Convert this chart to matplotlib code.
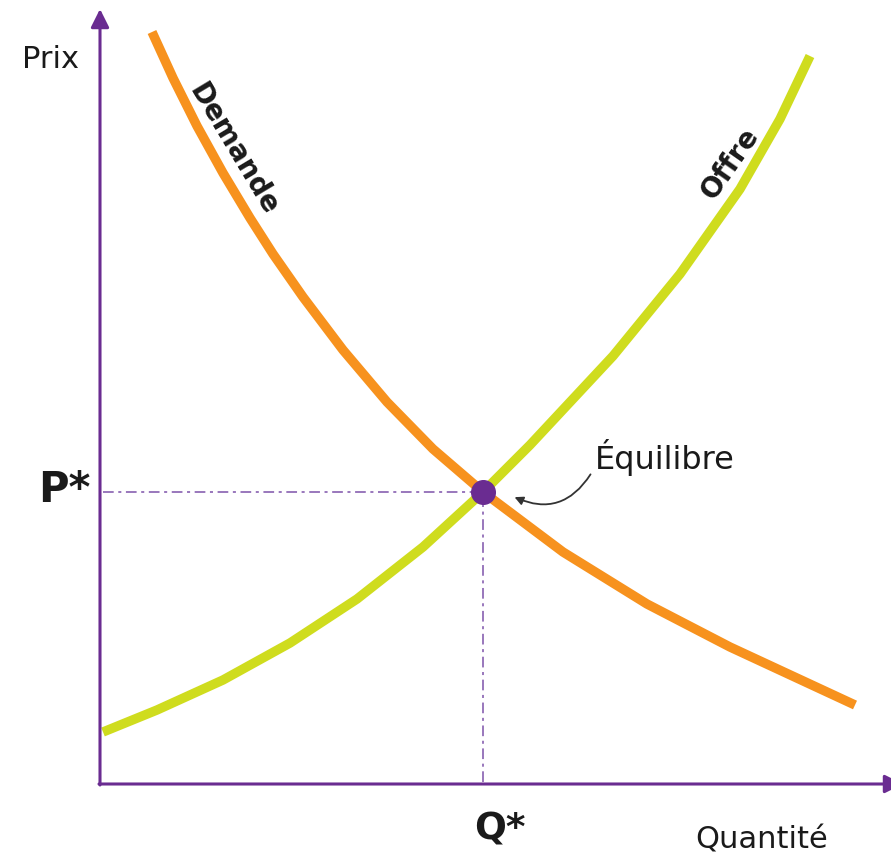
import matplotlib
matplotlib.use('Agg')
import matplotlib.pyplot as plt

# curves (quantity, price)
demand_q = [52, 73, 97, 123, 150, 173, 203, 243, 287, 333, 383, 463, 547, 630, 755]
demand_p = [752, 706, 658, 611, 566, 530, 487, 434, 382, 335, 292, 232, 180, 137, 79]
supply_q = [3, 57, 123, 190, 257, 323, 383, 430, 513, 580, 640, 680, 710]
supply_p = [52, 74, 104, 141, 185, 237, 292, 339, 428, 510, 595, 665, 728]
q_star, p_star = 383, 292

purple = '#6a2c91'
orange = '#f7921e'
green = '#cfdc1e'
ink = '#1a1a1a'

fig = plt.figure(figsize=(8.91, 8.53), dpi=100)
ax = fig.add_axes([0, 0, 1, 1])
ax.set_xlim(-100, 791)
ax.set_ylim(-68, 785)
ax.axis('off')

# axes with arrow heads
head = '-|>,head_length=1.1,head_width=0.55'
ax.annotate('', xy=(0, 775), xytext=(0, -1), annotation_clip=False,
            arrowprops=dict(arrowstyle=head, color=purple, lw=2.2,
                            shrinkA=0, shrinkB=0))
ax.annotate('', xy=(803, 0), xytext=(-1, 0), annotation_clip=False,
            arrowprops=dict(arrowstyle=head, color=purple, lw=2.2,
                            shrinkA=0, shrinkB=0))

# guides to the equilibrium
ax.plot([3, q_star], [p_star, p_star], color='#7d52aa', lw=1.1,
        dashes=(7, 3, 2, 3))
ax.plot([q_star, q_star], [2, p_star], color='#7d52aa', lw=1.1,
        dashes=(7, 3, 2, 3))

ax.plot(supply_q, supply_p, color=green, lw=6.8, solid_capstyle='butt',
        solid_joinstyle='round')
ax.plot(demand_q, demand_p, color=orange, lw=6.8, solid_capstyle='butt',
        solid_joinstyle='round')
ax.plot([q_star], [p_star], 'o', color=purple, ms=17, zorder=5)

ax.text(-50, 725, 'Prix', fontsize=22, ha='center', va='center', color=ink)
ax.text(-36, 295, 'P*', fontsize=30, fontweight='bold', ha='center', va='center', color=ink)
ax.text(400, -45, 'Q*', fontsize=27, fontweight='bold', ha='center', va='center', color=ink)
ax.text(662, -55, 'Quantité', fontsize=22, ha='center', va='center', color=ink)
ax.text(565, 327, 'Équilibre', fontsize=23, ha='center', va='center', color=ink)
ax.text(133, 636, 'Demande', fontsize=20, fontweight='bold', rotation=-59,
        ha='center', va='center', color=ink)
ax.text(630, 622, 'Offre', fontsize=20, fontweight='bold', rotation=55,
        ha='center', va='center', color=ink)

ax.annotate('', xy=(412, 288), xytext=(492, 312),
            arrowprops=dict(arrowstyle='-|>,head_length=0.5,head_width=0.25',
                            color='#333333', lw=1.3,
                            connectionstyle='arc3,rad=-0.45'))

fig.savefig('out.png', dpi=100, facecolor='white')
